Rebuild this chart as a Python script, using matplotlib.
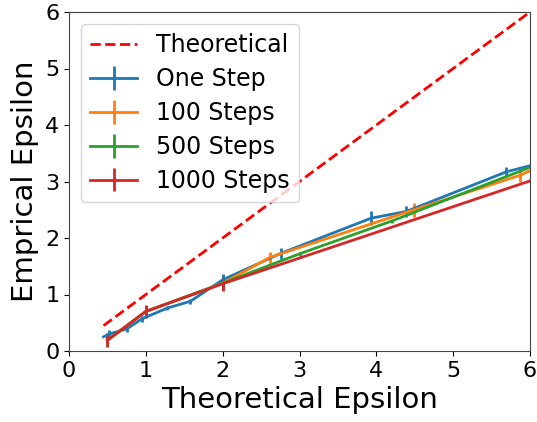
import matplotlib
matplotlib.use("Agg")
import matplotlib.pyplot as plt
import numpy as np

theory_x = [0.45, 6.0]
theory_y = [0.45, 6.0]

one_x = [0.45, 0.52, 0.75, 0.95, 1.28, 1.58, 2.0, 2.76, 3.93, 4.39, 5.69, 6.0]
one_y = [0.25, 0.30, 0.39, 0.57, 0.76, 0.88, 1.26, 1.73, 2.35, 2.47, 3.17, 3.28]
one_e = [0.0, 0.08, 0.05, 0.05, 0.04, 0.04, 0.1, 0.1, 0.12, 0.1, 0.08, 0.0]

s100_x = [0.5, 1.0, 2.0, 2.62, 4.49, 5.87, 6.0]
s100_y = [0.19, 0.70, 1.20, 1.66, 2.50, 3.11, 3.19]
s100_e = [0.1, 0.1, 0.1, 0.1, 0.12, 0.12, 0.0]

s500_x = [0.5, 1.0, 2.0, 3.0, 4.2, 6.0]
s500_y = [0.19, 0.70, 1.20, 1.72, 2.30, 3.25]
s500_e = [0.1, 0.1, 0.1, 0.04, 0.04, 0.0]

s1000_x = [0.5, 1.0, 2.0, 6.0]
s1000_y = [0.19, 0.70, 1.19, 3.01]
s1000_e = [0.12, 0.12, 0.12, 0.0]

fig = plt.figure(figsize=(5.37, 4.22), dpi=100)
ax = fig.add_axes([69/537, 1-351/422, (530-69)/537, (351-12)/422])

ax.plot(theory_x, theory_y, 'r--', lw=2, label='Theoretical')
kw = dict(lw=2, elinewidth=2)
ax.errorbar(one_x, one_y, yerr=one_e, color='#1f77b4', label='One Step', **kw)
ax.errorbar(s100_x, s100_y, yerr=s100_e, color='#ff7f0e', label='100 Steps', **kw)
ax.errorbar(s500_x, s500_y, yerr=s500_e, color='#2ca02c', label='500 Steps', **kw)
ax.errorbar(s1000_x, s1000_y, yerr=s1000_e, color='#d62728', label='1000 Steps', **kw)

ax.set_xlim(0, 6)
ax.set_ylim(0, 6)
ax.set_xticks(range(0, 7))
ax.set_yticks(range(0, 7))
ax.tick_params(labelsize=16)
for s in ax.spines.values():
    s.set_color('#444444')
ax.set_xlabel('Theoretical Epsilon', fontsize=21)
ax.set_ylabel('Emprical Epsilon', fontsize=21)
ax.legend(loc='upper left', fontsize=17, labelspacing=0.42)

fig.savefig('out.png', dpi=100)
